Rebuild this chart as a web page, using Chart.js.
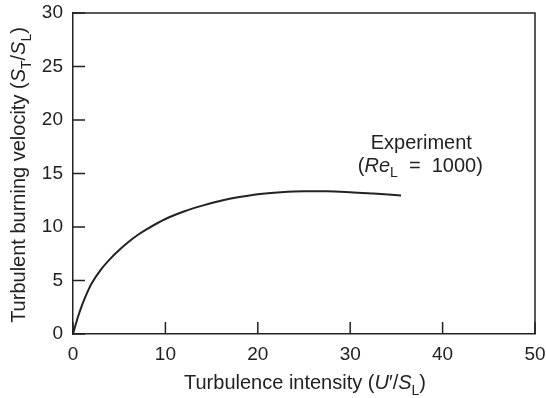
<!DOCTYPE html>
<html>
<head>
<meta charset="utf-8">
<script src="https://cdn.jsdelivr.net/npm/chart.js@4"></script>
<style>
  html, body { margin: 0; padding: 0; background: #fff; }
  canvas { display: block; }
</style>
</head>
<body>
<canvas id="chart" width="546" height="398"></canvas>
<script>
// data
const xTicks = [0, 10, 20, 30, 40, 50];
const yTicks = [0, 5, 10, 15, 20, 25, 30];
const intensity = [0, 0.5, 1, 1.5, 2, 3, 4, 5, 6, 7, 8, 10, 12, 14, 16, 18, 20, 22.5, 25, 27.5, 30, 32.5, 35.5];
const burningVelocity = [0, 1.5, 2.75, 3.8, 4.7, 6.0, 7.0, 7.85, 8.6, 9.25, 9.8, 10.75, 11.45, 12.0, 12.45, 12.8, 13.07, 13.25, 13.33, 13.33, 13.25, 13.12, 12.95];

const INK = '#222';
const FONT = '"Liberation Sans", Arial, Helvetica, sans-serif';

// draw a run of text pieces (italic / subscript) starting at x,y (baseline)
function pieceFont(p, size){
  const s = p.sub ? Math.round(size * 0.72) : size;
  return (p.italic ? 'italic ' : '') + s + 'px ' + FONT;
}
function runWidth(ctx, pieces, size){
  let w = 0;
  pieces.forEach(p => { ctx.font = pieceFont(p, size); w += ctx.measureText(p.t).width; });
  return w;
}
function drawRun(ctx, pieces, x, y, size){
  pieces.forEach(p => {
    ctx.font = pieceFont(p, size);
    ctx.fillText(p.t, x, y + (p.sub ? size * 0.28 : 0));
    x += ctx.measureText(p.t).width;
  });
}
function drawRunCentered(ctx, pieces, cx, y, size){
  drawRun(ctx, pieces, cx - runWidth(ctx, pieces, size) / 2, y, size);
}

const yTitle = [
  { t: 'Turbulent burning velocity (' }, { t: 'S', italic: true }, { t: 'T', sub: true },
  { t: '/' }, { t: 'S', italic: true }, { t: 'L', sub: true }, { t: ')' }
];
const xTitle = [
  { t: 'Turbulence intensity (' }, { t: 'U', italic: true }, { t: '\u2032' },
  { t: '/' }, { t: 'S', italic: true }, { t: 'L', sub: true }, { t: ')' }
];
const noteLine1 = [{ t: 'Experiment' }];
const noteLine2 = [{ t: '(' }, { t: 'Re', italic: true }, { t: 'L', sub: true }, { t: '  =  1000)' }];

const decorations = {
  id: 'decorations',
  afterDraw(chart){
    const { ctx, chartArea: a, scales: { x, y } } = chart;
    ctx.save();
    ctx.strokeStyle = INK;
    ctx.lineWidth = 1.5;
    // top and right frame
    ctx.beginPath();
    ctx.moveTo(a.left, a.top); ctx.lineTo(a.right, a.top); ctx.lineTo(a.right, a.bottom);
    ctx.stroke();
    // inward ticks
    ctx.beginPath();
    yTicks.forEach(v => { const py = y.getPixelForValue(v); ctx.moveTo(a.left, py); ctx.lineTo(a.left + 12, py); });
    xTicks.forEach(v => { const px = x.getPixelForValue(v); ctx.moveTo(px, a.bottom); ctx.lineTo(px, a.bottom - 12); });
    ctx.stroke();

    ctx.fillStyle = INK;
    ctx.textBaseline = 'alphabetic';
    ctx.textAlign = 'left';
    // axis titles
    drawRunCentered(ctx, xTitle, (a.left + a.right) / 2 + 1, 389, 20);
    ctx.save();
    ctx.translate(25, 175);
    ctx.rotate(-Math.PI / 2);
    drawRunCentered(ctx, yTitle, 0, 0, 20);
    ctx.restore();
    // annotation
    const nx = x.getPixelForValue(37.7);
    drawRunCentered(ctx, noteLine1, nx, y.getPixelForValue(17.3), 20);
    drawRunCentered(ctx, noteLine2, nx - 1, y.getPixelForValue(15.15), 20);
    ctx.restore();
  }
};

new Chart(document.getElementById('chart'), {
  type: 'line',
  data: {
    datasets: [{
      data: intensity.map((v, i) => ({ x: v, y: burningVelocity[i] })),
      borderColor: INK,
      borderWidth: 2,
      pointRadius: 0,
      fill: false,
      cubicInterpolationMode: 'monotone'
    }]
  },
  options: {
    responsive: false,
    animation: false,
    layout: { padding: { top: 13, right: 11, left: 0, bottom: 0 } },
    plugins: { legend: { display: false }, tooltip: { enabled: false } },
    scales: {
      x: {
        type: 'linear', min: 0, max: 50,
        afterBuildTicks: s => { s.ticks = xTicks.map(v => ({ value: v })); },
        afterFit: s => { s.height = 64; s.paddingLeft = 0; s.paddingRight = 0; },
        grid: { display: false, drawTicks: false },
        border: { display: true, color: INK, width: 1.5 },
        ticks: { color: INK, padding: 9, font: { family: FONT, size: 19 }, maxRotation: 0 }
      },
      y: {
        type: 'linear', min: 0, max: 30,
        afterBuildTicks: s => { s.ticks = yTicks.map(v => ({ value: v })); },
        afterFit: s => { s.width = 73; s.paddingTop = 0; s.paddingBottom = 0; },
        grid: { display: false, drawTicks: false },
        border: { display: true, color: INK, width: 1.5 },
        ticks: { color: INK, padding: 10, font: { family: FONT, size: 19 } }
      }
    }
  },
  plugins: [decorations]
});
</script>
</body>
</html>
